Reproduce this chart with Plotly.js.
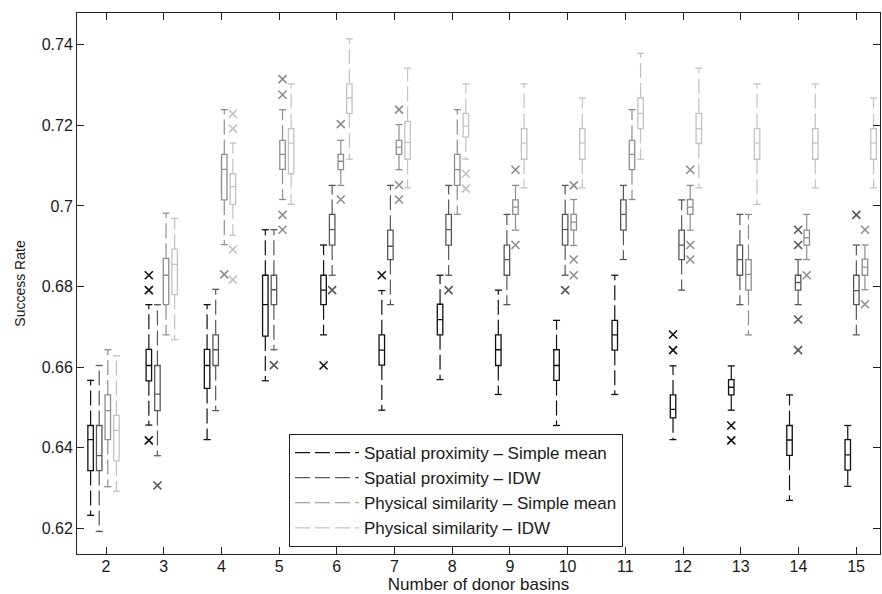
<!DOCTYPE html>
<html>
<head>
<meta charset="utf-8">
<script src="https://cdn.plot.ly/plotly-3.0.1.min.js"></script>
<style>
  html, body { margin: 0; padding: 0; background: #ffffff; }
  #chart { width: 882px; height: 594px; }
</style>
</head>
<body>
<div id="chart"></div>
<script>
// ---------------- DATA ----------------
const groups = [2, 3, 4, 5, 6, 7, 8, 9, 10, 11, 12, 13, 14, 15];
const xTickLabels = ['2', '3', '4', '5', '6', '7', '8', '9', '10', '11', '12', '13', '14', '15'];
const yTickValues = [0.62, 0.64, 0.66, 0.68, 0.70, 0.72, 0.74];
const yTickLabels = ['0.62', '0.64', '0.66', '0.68', '0.7', '0.72', '0.74'];
const seriesNames = [
  'Spatial proximity \u2013 Simple mean',
  'Spatial proximity \u2013 IDW',
  'Physical similarity \u2013 Simple mean',
  'Physical similarity \u2013 IDW'
];

// Spatial proximity - Simple mean
const spSmUpper  = [0.6567, 0.6755, 0.6755, 0.6941, 0.6903, 0.6790, 0.6828, 0.6791, 0.6716, 0.6828, 0.6603, 0.6603, 0.6531, 0.6455];
const spSmQ3     = [0.6455, 0.6644, 0.6644, 0.6828, 0.6828, 0.6680, 0.6756, 0.6680, 0.6643, 0.6716, 0.6531, 0.6569, 0.6455, 0.6420];
const spSmMedian = [0.6420, 0.6604, 0.6604, 0.6755, 0.6791, 0.6642, 0.6718, 0.6643, 0.6604, 0.6680, 0.6495, 0.6550, 0.6419, 0.6382];
const spSmQ1     = [0.6343, 0.6566, 0.6547, 0.6677, 0.6755, 0.6605, 0.6680, 0.6604, 0.6567, 0.6642, 0.6474, 0.6531, 0.6381, 0.6344];
const spSmLower  = [0.6232, 0.6456, 0.6420, 0.6566, 0.6680, 0.6493, 0.6569, 0.6532, 0.6455, 0.6532, 0.6420, 0.6493, 0.6269, 0.6304];
const spSmOutGroup = [3, 3, 3, 6, 7, 12, 12, 13, 13];
const spSmOutValue = [0.6828, 0.6791, 0.6418, 0.6604, 0.6828, 0.6681, 0.6642, 0.6455, 0.6418];

// Spatial proximity - IDW
const spIdwUpper  = [0.6604, 0.6755, 0.6793, 0.6941, 0.7051, 0.7051, 0.7051, 0.6979, 0.7051, 0.7051, 0.7015, 0.6979, 0.6867, 0.6903];
const spIdwQ3     = [0.6455, 0.6604, 0.6680, 0.6828, 0.6979, 0.6940, 0.6979, 0.6903, 0.6979, 0.7015, 0.6940, 0.6903, 0.6828, 0.6828];
const spIdwMedian = [0.6380, 0.6533, 0.6643, 0.6792, 0.6941, 0.6900, 0.6941, 0.6867, 0.6941, 0.6979, 0.6903, 0.6867, 0.6810, 0.6790];
const spIdwQ1     = [0.6343, 0.6492, 0.6604, 0.6755, 0.6903, 0.6867, 0.6903, 0.6828, 0.6903, 0.6940, 0.6867, 0.6828, 0.6791, 0.6755];
const spIdwLower  = [0.6192, 0.6380, 0.6492, 0.6643, 0.6828, 0.6755, 0.6828, 0.6755, 0.6828, 0.6867, 0.6791, 0.6755, 0.6755, 0.6680];
const spIdwOutGroup = [3, 5, 6, 8, 10, 14, 14, 14, 14, 15];
const spIdwOutValue = [0.6306, 0.6605, 0.6791, 0.6791, 0.6791, 0.6941, 0.6903, 0.6718, 0.6642, 0.6978];

// Physical similarity - Simple mean
const psSmUpper  = [0.6643, 0.6982, 0.7239, 0.7239, 0.7163, 0.7202, 0.7239, 0.7051, 0.7016, 0.7239, 0.7051, 0.6979, 0.6979, 0.6903];
const psSmQ3     = [0.6531, 0.6870, 0.7128, 0.7163, 0.7128, 0.7163, 0.7128, 0.7015, 0.6979, 0.7163, 0.7016, 0.6867, 0.6940, 0.6868];
const psSmMedian = [0.6492, 0.6828, 0.7091, 0.7128, 0.7111, 0.7146, 0.7090, 0.6997, 0.6960, 0.7128, 0.6997, 0.6830, 0.6921, 0.6848];
const psSmQ1     = [0.6420, 0.6755, 0.7015, 0.7091, 0.7090, 0.7128, 0.7051, 0.6979, 0.6940, 0.7090, 0.6979, 0.6791, 0.6903, 0.6828];
const psSmLower  = [0.6303, 0.6680, 0.6904, 0.7016, 0.7051, 0.7090, 0.6979, 0.6940, 0.6902, 0.7016, 0.6940, 0.6680, 0.6867, 0.6792];
const psSmOutGroup = [4, 5, 5, 5, 5, 6, 6, 7, 7, 7, 9, 9, 10, 10, 10, 12, 12, 12, 14, 15, 15];
const psSmOutValue = [0.6830, 0.7315, 0.7276, 0.6978, 0.6941, 0.7203, 0.7016, 0.7239, 0.7052, 0.7016,
                      0.7090, 0.6903, 0.7051, 0.6867, 0.6828, 0.7090, 0.6903, 0.6867, 0.6828, 0.6941, 0.6756];

// Physical similarity - IDW
const psIdwUpper  = [0.6628, 0.6969, 0.7156, 0.7303, 0.7415, 0.7342, 0.7303, 0.7303, 0.7268, 0.7379, 0.7342, 0.7303, 0.7303, 0.7268];
const psIdwQ3     = [0.6480, 0.6893, 0.7080, 0.7192, 0.7303, 0.7210, 0.7230, 0.7192, 0.7192, 0.7268, 0.7230, 0.7192, 0.7192, 0.7192];
const psIdwMedian = [0.6443, 0.6855, 0.7048, 0.7156, 0.7268, 0.7158, 0.7198, 0.7156, 0.7156, 0.7230, 0.7192, 0.7156, 0.7156, 0.7156];
const psIdwQ1     = [0.6367, 0.6780, 0.7004, 0.7080, 0.7230, 0.7116, 0.7171, 0.7116, 0.7116, 0.7192, 0.7155, 0.7116, 0.7116, 0.7116];
const psIdwLower  = [0.6292, 0.6668, 0.6927, 0.7004, 0.7116, 0.7045, 0.7116, 0.7045, 0.7045, 0.7116, 0.7045, 0.7004, 0.7045, 0.7045];
const psIdwOutGroup = [4, 4, 4, 4, 8, 8];
const psIdwOutValue = [0.7229, 0.7192, 0.6892, 0.6817, 0.7080, 0.7043];

// ---------------- STYLE / LAYOUT HELPERS ----------------
const colors = ['#111111', '#585858', '#8e8e8e', '#c2c2c2'];
const BASE = -0.267;     // offset of first box from its tick (in tick units)
const DRIFT = 0.0094;    // box groups are spaced slightly wider than ticks
const STEP = 0.149;      // spacing between the 4 boxes of a group
const BOX_W = 0.095;
function pos(k, s) { return k + BASE + (k - 2) * DRIFT + s * STEP; }

const series = [
  [spSmUpper, spSmQ3, spSmMedian, spSmQ1, spSmLower, spSmOutGroup, spSmOutValue],
  [spIdwUpper, spIdwQ3, spIdwMedian, spIdwQ1, spIdwLower, spIdwOutGroup, spIdwOutValue],
  [psSmUpper, psSmQ3, psSmMedian, psSmQ1, psSmLower, psSmOutGroup, psSmOutValue],
  [psIdwUpper, psIdwQ3, psIdwMedian, psIdwQ1, psIdwLower, psIdwOutGroup, psIdwOutValue]
];

const traces = [];
series.forEach(function (sr, s) {
  const [up, q3, med, q1, lo, og, ov] = sr;
  const color = colors[s];
  const name = seriesNames[s];
  const xs = groups.map(k => pos(k, s));

  // dashed whiskers (also the legend entry)
  const wx = [], wy = [];
  groups.forEach(function (k, i) {
    const p = pos(k, s);
    wx.push(p, p, null, p, p, null);
    wy.push(q3[i], up[i], null, q1[i], lo[i], null);
  });
  traces.push({
    type: 'scatter', mode: 'lines', x: wx, y: wy, name: name,
    legendgroup: 'g' + s, showlegend: true, hoverinfo: 'skip',
    line: { color: color, width: 1.2, dash: '15px,5px' }
  });

  // boxes
  traces.push({
    type: 'box', orientation: 'v', x: xs,
    q1: q1, median: med, q3: q3, lowerfence: q1, upperfence: q3,
    width: BOX_W, whiskerwidth: 0, boxpoints: false,
    line: { color: color, width: 1.3 }, fillcolor: 'rgba(255,255,255,0)',
    legendgroup: 'g' + s, showlegend: false, hoverinfo: 'skip'
  });

  // whisker end caps
  traces.push({
    type: 'scatter', mode: 'markers', x: xs.concat(xs), y: up.concat(lo),
    legendgroup: 'g' + s, showlegend: false, hoverinfo: 'skip',
    marker: { symbol: 'line-ew-open', size: 5, color: color, line: { color: color, width: 1.3 } }
  });

  // outliers
  traces.push({
    type: 'scatter', mode: 'markers', x: og.map(k => pos(k, s)), y: ov,
    legendgroup: 'g' + s, showlegend: false, hoverinfo: 'skip',
    marker: { symbol: 'x-thin-open', size: 8, color: color, line: { color: color, width: 1.6 } }
  });
});

const FONT = 'Liberation Sans, Arial, Helvetica, sans-serif';
const layout = {
  width: 882, height: 594,
  margin: { l: 77, r: 2, t: 13, b: 40, pad: 0 },
  paper_bgcolor: '#ffffff', plot_bgcolor: '#ffffff',
  font: { family: FONT, color: '#1a1a1a', size: 16 },
  showlegend: true,
  boxmode: 'overlay',
  xaxis: {
    range: [1.4974, 15.414],
    tickmode: 'array', tickvals: groups, ticktext: xTickLabels,
    ticks: 'inside', ticklen: 7, tickwidth: 1, tickcolor: '#222',
    showline: true, linecolor: '#222', linewidth: 1, mirror: 'ticks',
    showgrid: false, zeroline: false,
    ticklabelstandoff: -2,
    tickfont: { family: FONT, size: 16, color: '#1a1a1a' },
    title: { text: 'Number of donor basins', font: { family: FONT, size: 17, color: '#1a1a1a' }, standoff: 2 }
  },
  yaxis: {
    range: [0.6136, 0.7479],
    tickmode: 'array', tickvals: yTickValues, ticktext: yTickLabels,
    ticks: 'inside', ticklen: 7, tickwidth: 1, tickcolor: '#222',
    showline: true, linecolor: '#222', linewidth: 1, mirror: 'ticks',
    showgrid: false, zeroline: false,
    tickfont: { family: FONT, size: 16, color: '#1a1a1a' },
    title: { text: 'Success Rate', font: { family: FONT, size: 14, color: '#1a1a1a' }, standoff: 12 }
  },
  legend: {
    x: 0.264, y: 0.2218, xanchor: 'left', yanchor: 'top',
    bgcolor: '#ffffff', bordercolor: '#222', borderwidth: 1,
    font: { family: FONT, size: 17, color: '#1a1a1a' },
    traceorder: 'grouped', tracegroupgap: 0, itemwidth: 64
  }
};

Plotly.newPlot('chart', traces, layout, { displayModeBar: false, staticPlot: true });
</script>
</body>
</html>
